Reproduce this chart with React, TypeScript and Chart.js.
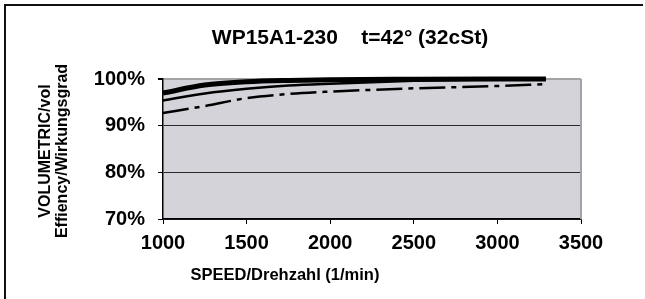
import React, { useEffect, useRef } from "react";
import { Chart, registerables } from "chart.js";

Chart.register(...registerables);

// ---- data ----
const speeds = [1000, 1250, 1500, 1750, 2000, 2500, 3000, 3290];
const effThick = [97.0, 98.7, 99.4, 99.7, 99.85, 99.95, 100, 100];
const effThin = [95.4, 96.9, 97.9, 98.6, 99.0, 99.6, 99.9, 100];
const effDashDot = [92.7, 94.2, 95.9, 96.8, 97.3, 98.0, 98.5, 98.9];

const titleText = "WP15A1-230    t=42\u00B0 (32cSt)";
const xTitle = "SPEED/Drehzahl (1/min)";
const yTitleLines = ["VOLUMETRIC/vol", "Effiency/Wirkungsgrad"];

const FONT = '"Liberation Sans", Arial, Helvetica, sans-serif';

const decorPlugin = {
  id: "decor",
  beforeDraw(chart: any) {
    const { ctx, chartArea: a } = chart;
    ctx.save();
    ctx.fillStyle = "#ffffff";
    ctx.fillRect(0, 0, chart.width, chart.height);
    ctx.fillStyle = "#d4d3d9";
    ctx.fillRect(a.left, a.top, a.right - a.left, a.bottom - a.top);
    // outer frame
    ctx.strokeStyle = "#111111";
    ctx.lineWidth = 2;
    ctx.beginPath();
    ctx.moveTo(5, chart.height + 2);
    ctx.lineTo(5, 5);
    ctx.lineTo(643, 5);
    ctx.stroke();
    ctx.restore();
  },
  afterDraw(chart: any) {
    const { ctx, chartArea: a } = chart;
    ctx.save();
    // right border of plot
    ctx.strokeStyle = "#a3a3a3";
    ctx.lineWidth = 2;
    ctx.beginPath();
    ctx.moveTo(a.right, a.top);
    ctx.lineTo(a.right, a.bottom);
    ctx.stroke();
    ctx.fillStyle = "#000";
    ctx.textBaseline = "alphabetic";
    ctx.textAlign = "center";
    ctx.font = `bold 21px ${FONT}`;
    ctx.fillText(titleText, 350, 43.5);
    ctx.font = `bold 16.5px ${FONT}`;
    ctx.fillText(xTitle, 285, 279.5);
    ctx.font = `bold 16px ${FONT}`;
    const cy = (a.top + a.bottom) / 2 + 2;
    const xs = [49.5, 67];
    yTitleLines.forEach((line, i) => {
      ctx.save();
      ctx.translate(xs[i], cy);
      ctx.rotate(-Math.PI / 2);
      ctx.fillText(line, 0, 0);
      ctx.restore();
    });
    ctx.restore();
  },
};

export default function App() {
  const ref = useRef<HTMLCanvasElement | null>(null);
  useEffect(() => {
    if (!ref.current) return;
    const mk = (data: number[]) => speeds.map((s, i) => ({ x: s, y: data[i] }));
    const chart = new Chart(ref.current, {
      type: "line",
      data: {
        datasets: [
          {
            data: mk(effDashDot),
            borderColor: "#000",
            borderWidth: 2.5,
            borderDash: [26, 6, 5, 6],
            pointRadius: 0,
            cubicInterpolationMode: "monotone",
            clip: false,
          } as any,
          {
            data: mk(effThin),
            borderColor: "#000",
            borderWidth: 2.5,
            pointRadius: 0,
            cubicInterpolationMode: "monotone",
            clip: false,
          } as any,
          {
            data: mk(effThick),
            borderColor: "#000",
            borderWidth: 5,
            pointRadius: 0,
            cubicInterpolationMode: "monotone",
            clip: false,
          } as any,
        ],
      },
      options: {
        animation: false,
        responsive: false,
        devicePixelRatio: 1,
        layout: { padding: { top: 79, right: 64, bottom: 0, left: 0 } },
        plugins: { legend: { display: false }, tooltip: { enabled: false } },
        scales: {
          x: {
            type: "linear",
            min: 1000,
            max: 3500,
            afterFit: (s: any) => {
              s.height = 80;
            },
            ticks: {
              stepSize: 500,
              color: "#000",
              font: { family: FONT, weight: "bold", size: 20 },
              padding: 7,
              maxRotation: 0,
              callback: (v: any) => String(v),
            },
            grid: {
              drawOnChartArea: false,
              drawTicks: true,
              tickLength: 5,
              color: "#000",
            },
            border: { color: "#000", width: 1.5 },
          },
          y: {
            min: 70,
            max: 100,
            afterFit: (s: any) => {
              s.width = 163;
            },
            ticks: {
              stepSize: 10,
              color: "#000",
              font: { family: FONT, weight: "bold", size: 20 },
              padding: 13,
              callback: (v: any) => `${v}%`,
            },
            grid: {
              drawTicks: true,
              tickLength: 5,
              color: (c: any) => (c.tick && c.tick.value === 100 ? "#a3a3a3" : "#2a2a2a"),
              lineWidth: (c: any) => (c.tick && c.tick.value === 100 ? 2 : 1),
              tickColor: "#000",
            },
            border: { color: "#000", width: 1.5 },
          },
        },
      },
      plugins: [decorPlugin],
    });
    return () => chart.destroy();
  }, []);
  return (
    <div style={{ position: "fixed", left: 0, top: 0, width: 645, height: 299 }}>
      <canvas ref={ref} width={645} height={299} style={{ display: "block" }} />
    </div>
  );
}
